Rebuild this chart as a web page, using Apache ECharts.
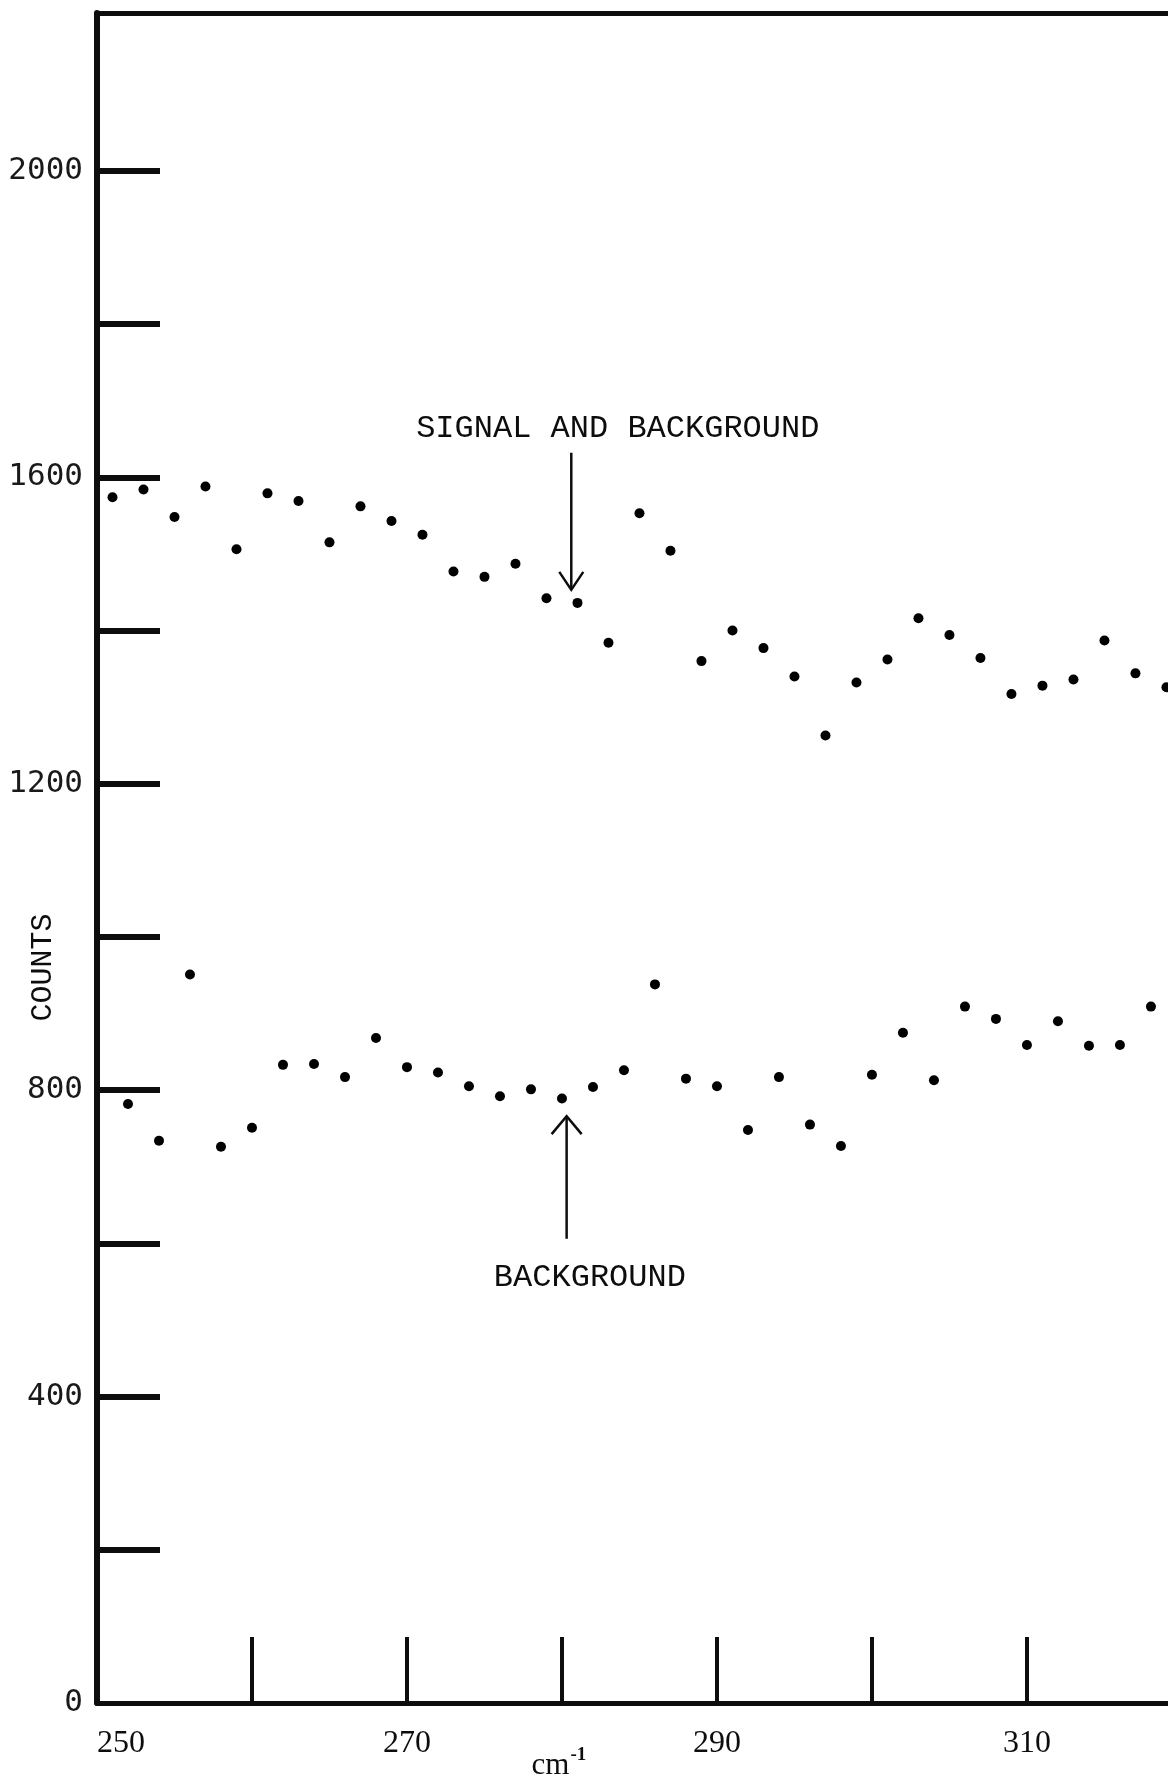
<!DOCTYPE html>
<html>
<head>
<meta charset="utf-8">
<script src="https://cdn.jsdelivr.net/npm/echarts@6/dist/echarts.min.js"></script>
<style>
  html, body { margin: 0; padding: 0; background: #ffffff; }
  #chart { width: 1168px; height: 1775px; }
</style>
</head>
<body>
<div id="chart"></div>
<script>
// ---- data ----
const signalWavenumbers = [251,253,255,257,259,261,263,265,267,269,271,273,275,277,279,281,283,285,287,289,291,293,295,297,299,301,303,305,307,309,311,313,315,317,319];
const signalCounts      = [1574,1584,1548,1588,1506,1579,1569,1515,1562,1543,1525,1477,1470,1487,1442,1436,1384,1553,1504,1360,1400,1377,1340,1263,1332,1362,1416,1394,1364,1317,1328,1336,1387,1344,1326];

const backgroundWavenumbers = [252,254,256,258,260,262,264,266,268,270,272,274,276,278,280,282,284,286,288,290,292,294,296,298,300,302,304,306,308,310,312,314,316,318];
const backgroundCounts      = [782,734,951,726,751,833,834,817,868,830,823,805,792,801,789,804,826,938,815,805,748,817,755,727,820,875,813,909,893,859,890,858,859,909];

const xTickValues  = [260,270,280,290,300,310];
const xLabelValues = [250,270,290,310];
const yTickValues  = [200,400,600,800,1000,1200,1400,1600,1800,2000];
const yLabelValues = [0,400,800,1200,1600,2000];

const xTitle = 'cm';
const xTitleSup = '-1';
const yTitle = 'COUNTS';
const signalNote = 'SIGNAL AND BACKGROUND';
const backgroundNote = 'BACKGROUND';

// ---- chart ----
const chart = echarts.init(document.getElementById('chart'), null, { renderer: 'canvas' });
const ink = '#0d0d0d';
const typeFont = '"Liberation Mono", "DejaVu Sans Mono", monospace';

function pairs(xs, ys) { return xs.map((x, i) => [x, ys[i]]); }

chart.setOption({
  animation: false,
  backgroundColor: '#ffffff',
  grid: { left: 97, right: 0, top: 13, bottom: 72, containLabel: false, outerBoundsMode: 'none' },
  xAxis: [{
    type: 'value',
    min: 250,
    max: 319.1,
    position: 'bottom',
    splitLine: { show: false },
    axisLine: { show: true, onZero: false, lineStyle: { color: ink, width: 5 } },
    axisTick: { show: true, inside: true, length: 66, customValues: xTickValues, lineStyle: { color: ink, width: 4 } },
    axisLabel: {
      show: true,
      customValues: xLabelValues,
      margin: 25,
      color: ink,
      fontFamily: '"Liberation Serif", "DejaVu Serif", serif',
      fontSize: 32,
      formatter: v => v === 250 ? '{s|250}' : String(v),
      rich: { s: { padding: [0, 0, 0, 48], fontFamily: '"Liberation Serif", serif', fontSize: 32, color: ink } }
    }
  }, {
    type: 'value',
    min: 250,
    max: 319.1,
    position: 'top',
    splitLine: { show: false },
    axisLine: { show: true, onZero: false, lineStyle: { color: ink, width: 5 } },
    axisTick: { show: false },
    axisLabel: { show: false }
  }],
  yAxis: {
    type: 'value',
    min: 0,
    max: 2206,
    splitLine: { show: false },
    axisLine: { show: true, onZero: false, lineStyle: { color: ink, width: 6 } },
    axisTick: { show: true, inside: true, length: 63, customValues: yTickValues, lineStyle: { color: ink, width: 6 } },
    axisLabel: {
      show: true,
      customValues: yLabelValues,
      margin: 14,
      color: '#1a1a1a',
      fontFamily: '"DejaVu Sans Mono", "Liberation Mono", monospace',
      fontSize: 31,
      formatter: v => String(v)
    }
  },
  series: [{
    name: 'signal and background',
    type: 'scatter',
    xAxisIndex: 0,
    data: pairs(signalWavenumbers, signalCounts),
    symbol: 'circle',
    symbolSize: 10,
    itemStyle: { color: '#000', opacity: 1 },
    emphasis: { disabled: true },
    clip: false
  }, {
    name: 'background',
    type: 'scatter',
    xAxisIndex: 0,
    data: pairs(backgroundWavenumbers, backgroundCounts),
    symbol: 'circle',
    symbolSize: 10,
    itemStyle: { color: '#000', opacity: 1 },
    emphasis: { disabled: true },
    clip: false
  }]
});

// ---- annotations, anchored in data units and converted through the axes ----
function px(x, y) { return chart.convertToPixel({ gridIndex: 0 }, [x, y]); }

const sigText = px(283.6, 1664);
const sigTop = px(280.6, 1632);
const sigTip = px(280.6, 1453);
const bgText = px(281.8, 556);
const bgTip = px(280.3, 766);
const bgBottom = px(280.3, 606);
const yTitlePos = px(250, 960);
const xTitlePos = px(279.8, 0);

chart.setOption({
  graphic: [
    { type: 'text', x: sigText[0], y: sigText[1],
      style: { text: signalNote, font: '32px ' + typeFont, fill: ink, align: 'center', verticalAlign: 'middle' } },
    { type: 'polyline', shape: { points: [sigTop, sigTip] }, style: { stroke: ink, lineWidth: 2.5, fill: null } },
    { type: 'polyline', shape: { points: [[sigTip[0] - 12, sigTip[1] - 18], sigTip, [sigTip[0] + 12, sigTip[1] - 18]] },
      style: { stroke: ink, lineWidth: 2.5, fill: null } },

    { type: 'text', x: bgText[0], y: bgText[1],
      style: { text: backgroundNote, font: '32px ' + typeFont, fill: ink, align: 'center', verticalAlign: 'middle' } },
    { type: 'polyline', shape: { points: [bgBottom, bgTip] }, style: { stroke: ink, lineWidth: 2.5, fill: null } },
    { type: 'polyline', shape: { points: [[bgTip[0] - 15, bgTip[1] + 18], bgTip, [bgTip[0] + 15, bgTip[1] + 18]] },
      style: { stroke: ink, lineWidth: 2.5, fill: null } },

    { type: 'text', x: 43, y: yTitlePos[1], rotation: Math.PI / 2,
      style: { text: yTitle, font: '30px ' + typeFont, fill: ink, align: 'center', verticalAlign: 'middle' } },

    { type: 'text', x: xTitlePos[0], y: 1762,
      style: {
        text: '{b|' + xTitle + '}{s|' + xTitleSup + '}',
        align: 'center', verticalAlign: 'middle',
        rich: {
          b: { font: '31px "Liberation Serif", serif', fill: ink, color: ink, padding: [8, 0, 0, 0] },
          s: { font: 'bold 19px "Liberation Serif", serif', fill: ink, color: ink, padding: [0, 0, 14, 1] }
        }
      } }
  ]
});
</script>
</body>
</html>
